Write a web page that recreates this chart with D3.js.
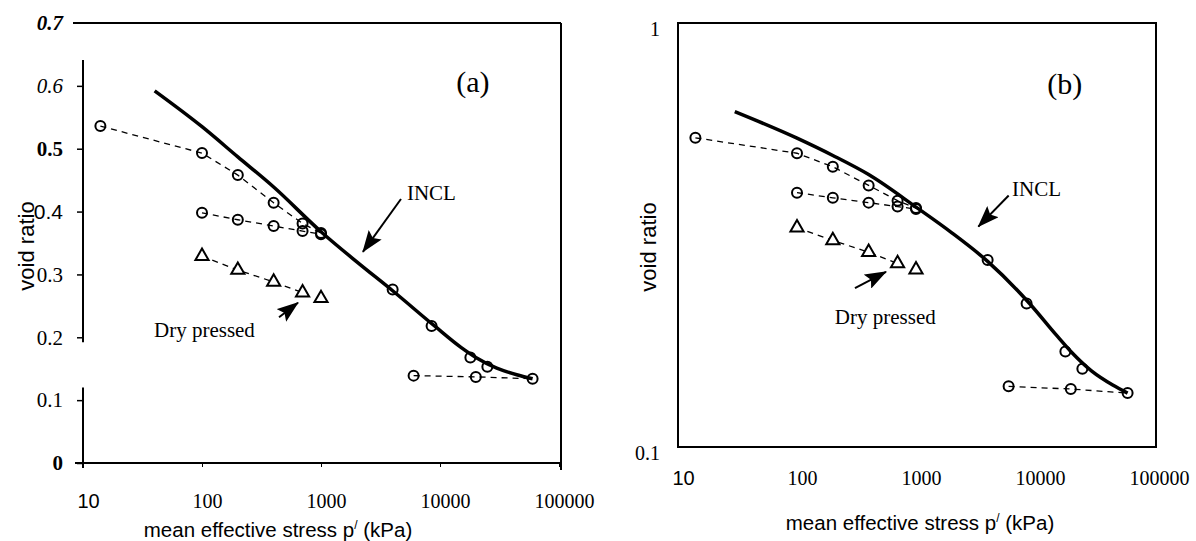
<!DOCTYPE html>
<html>
<head>
<meta charset="utf-8">
<script src="https://cdn.jsdelivr.net/npm/d3@7"></script>
<style>
  body { margin: 0; background: #fff; }
</style>
</head>
<body>
<div id="chart"></div>
<script>
// mean effective stress p' (kPa) and void ratio, one pair of arrays per test series
const pUpper = [14, 100, 200, 400, 700, 1000];
const eUpper = [0.536, 0.493, 0.458, 0.414, 0.381, 0.366];
const pMid = [100, 200, 400, 700, 1000];
const eMid = [0.398, 0.387, 0.377, 0.369, 0.364];
const pDry = [100, 200, 400, 700, 1000];
const eDry = [0.329, 0.307, 0.288, 0.271, 0.262];
const pIncl = [4000, 8500, 18000, 25000, 60000];
const eIncl = [0.276, 0.218, 0.168, 0.153, 0.134];
const pHigh = [6000, 20000, 60000];
const eHigh = [0.139, 0.137, 0.134];

// INCL curve, as drawn in (a) and in (b)
const pCurveA = [40, 100, 200, 400, 1000, 2000, 4000, 9000, 15000, 20000, 30000, 45000, 60000];
const eCurveA = [0.592, 0.535, 0.487, 0.439, 0.368, 0.32, 0.274, 0.218, 0.184, 0.168, 0.151, 0.14, 0.134];
const pCurveB = [30, 100, 200, 400, 1000, 2000, 4000, 9000, 15000, 20000, 30000, 45000, 60000];
const eCurveB = [0.618, 0.535, 0.487, 0.439, 0.368, 0.32, 0.274, 0.218, 0.184, 0.168, 0.151, 0.14, 0.134];

const xTicks = [10, 100, 1000, 10000, 100000];
const yTicksA = [0, 0.1, 0.2, 0.3, 0.4, 0.5, 0.6, 0.7];
const yTicksB = [0.1, 1];

const zip = (a, b) => a.map((v, i) => [v, b[i]]);
const serif = 'Liberation Serif, Times New Roman, serif';
const sans = 'Liberation Sans, Arial, sans-serif';

const svg = d3.select('#chart').append('svg')
  .attr('width', 1196)
  .attr('height', 541);

svg.append('defs').append('marker')
  .attr('id', 'head')
  .attr('viewBox', '0 0 22 16')
  .attr('refX', 21).attr('refY', 8)
  .attr('markerWidth', 22).attr('markerHeight', 16)
  .attr('markerUnits', 'userSpaceOnUse')
  .attr('orient', 'auto')
  .append('path')
  .attr('d', 'M0,0L22,8L0,16L4,8Z')
  .attr('fill', '#000');

// scales for both panels
const xA = d3.scaleLog().domain([10, 100000]).range([83, 559]);
const yA = d3.scaleLinear().domain([0, 0.7]).range([463, 23]);
const xB = d3.scaleLog().domain([10, 100000]).range([678, 1154]);
const yB = d3.scaleLog().domain([0.1, 1]).range([447, 23]);

function drawData(g, x, y, curve, notes) {
  const line = d3.line().x(d => x(d[0])).y(d => y(d[1]));

  g.append('path')
    .attr('d', line.curve(d3.curveMonotoneX)(curve))
    .attr('fill', 'none')
    .attr('stroke', '#000')
    .attr('stroke-width', 3.5);

  line.curve(d3.curveLinear);
  const dashed = [zip(pUpper, eUpper), zip(pMid, eMid), zip(pDry, eDry).slice(0, 4), zip(pHigh, eHigh)];
  dashed.forEach(s => {
    g.append('path')
      .attr('d', line(s))
      .attr('fill', 'none')
      .attr('stroke', '#000')
      .attr('stroke-width', 1.3)
      .attr('stroke-dasharray', '6,5');
  });

  const circles = [].concat(zip(pUpper, eUpper), zip(pMid, eMid), zip(pIncl, eIncl), zip(pHigh, eHigh).slice(0, 2));
  g.selectAll(null).data(circles).enter().append('circle')
    .attr('cx', d => x(d[0]))
    .attr('cy', d => y(d[1]))
    .attr('r', 5)
    .attr('fill', 'none')
    .attr('stroke', '#000')
    .attr('stroke-width', 2);

  g.selectAll(null).data(zip(pDry, eDry)).enter().append('path')
    .attr('d', d3.symbol(d3.symbolTriangle, 75))
    .attr('transform', d => `translate(${x(d[0])},${y(d[1])})`)
    .attr('fill', '#fff')
    .attr('stroke', '#000')
    .attr('stroke-width', 2);

  // annotations, anchored in data space
  g.append('text')
    .attr('x', x(notes.tag[0])).attr('y', y(notes.tag[1]))
    .attr('text-anchor', 'middle')
    .attr('font-family', serif).attr('font-size', 30)
    .text(notes.tagText);

  g.append('text')
    .attr('x', x(notes.incl[0])).attr('y', y(notes.incl[1]))
    .attr('font-family', serif).attr('font-size', 21)
    .text('INCL');

  g.append('text')
    .attr('x', x(notes.dry[0])).attr('y', y(notes.dry[1]))
    .attr('font-family', serif).attr('font-size', 21)
    .text('Dry pressed');

  [notes.inclArrow, notes.dryArrow].forEach(a => {
    g.append('line')
      .attr('x1', x(a[0][0])).attr('y1', y(a[0][1]))
      .attr('x2', x(a[1][0])).attr('y2', y(a[1][1]))
      .attr('stroke', '#000')
      .attr('stroke-width', 2)
      .attr('marker-end', 'url(#head)');
  });
}

function xTitle(g, cx, cy) {
  const t = g.append('text')
    .attr('x', cx).attr('y', cy)
    .attr('text-anchor', 'middle')
    .attr('font-family', sans).attr('font-size', 20.5);
  t.append('tspan').text('mean effective stress p');
  t.append('tspan').attr('dy', -8).attr('font-size', 12).text('/');
  t.append('tspan').attr('dy', 8).text(' (kPa)');
}

function yTitle(g, cx, cy) {
  g.append('text')
    .attr('transform', `translate(${cx},${cy}) rotate(-90)`)
    .attr('text-anchor', 'middle')
    .attr('font-family', sans).attr('font-size', 22)
    .text('void ratio');
}

function styleXLabels(ax) {
  ax.select('.domain').remove();
  ax.selectAll('.tick line').attr('stroke-width', 1);
  ax.selectAll('.tick text')
    .attr('dx', 5)
    .attr('font-family', d => d === 10 ? sans : serif)
    .attr('font-size', 20)
    .attr('fill', '#000');
}

// ---------- panel (a) ----------
const gA = svg.append('g');

// frame as it appears in the scan: open top-left corner and a gap in the y axis
const frameA = [
  [[73, yA(0.7)], [xA(100000) + 2, yA(0.7)]],
  [[xA(100000) + 2, yA(0.7)], [xA(100000) + 2, yA(0) + 7]],
  [[75, yA(0)], [xA(100000) + 2, yA(0)]],
  [[xA(10), 60], [xA(10), yA(0.2) + 5]],
  [[xA(10), yA(0.12)], [xA(10), yA(0) + 5]]
];
frameA.forEach(s => {
  gA.append('line')
    .attr('x1', s[0][0]).attr('y1', s[0][1])
    .attr('x2', s[1][0]).attr('y2', s[1][1])
    .attr('stroke', '#000').attr('stroke-width', 2);
});

const yAxisA = gA.append('g')
  .attr('transform', `translate(${xA(10)},0)`)
  .call(d3.axisLeft(yA).tickValues(yTicksA).tickSize(6).tickPadding(14)
    .tickFormat(d => d === 0 ? '0' : d3.format('.1f')(d)));
yAxisA.select('.domain').remove();
const yStyle = {0.7: ['bold', 'italic'], 0.6: ['normal', 'italic'], 0.5: ['bold', 'normal'], 0: ['bold', 'normal']};
yAxisA.selectAll('.tick text')
  .attr('font-family', d => d === 0.4 ? sans : serif)
  .attr('font-size', 21)
  .attr('font-weight', d => (yStyle[d] || ['normal'])[0])
  .attr('font-style', d => (yStyle[d] || ['normal', 'normal'])[1])
  .attr('fill', '#000');
yAxisA.selectAll('.tick line').attr('stroke-width', 1.5).filter(d => d === 0.7).remove();

const xAxisA = gA.append('g')
  .attr('transform', `translate(0,${yA(0)})`)
  .call(d3.axisBottom(xA).tickValues(xTicks).tickSize(4).tickPadding(27).tickFormat(d3.format('d')));
styleXLabels(xAxisA);

xTitle(gA, 278, 537);
yTitle(gA, 34, 246);

drawData(gA, xA, yA, zip(pCurveA, eCurveA), {
  tag: [18900, 0.59], tagText: '(a)',
  incl: [5270, 0.418],
  inclArrow: [[4700, 0.42], [2250, 0.336]],
  dry: [39.5, 0.2],
  dryArrow: [[444, 0.232], [641, 0.255]]
});

// ---------- panel (b) ----------
const gB = svg.append('g');

gB.append('rect')
  .attr('x', xB(10)).attr('y', yB(1))
  .attr('width', xB(100000) - xB(10) + 2)
  .attr('height', yB(0.1) - yB(1))
  .attr('fill', 'none')
  .attr('stroke', '#000')
  .attr('stroke-width', 2);

const yAxisB = gB.append('g')
  .attr('transform', `translate(${xB(10)},0)`)
  .call(d3.axisLeft(yB).tickValues(yTicksB).tickSize(0).tickPadding(18).tickFormat(d => d === 1 ? '1' : '0.1'));
yAxisB.select('.domain').remove();
yAxisB.selectAll('.tick text')
  .attr('dy', '0.6em')
  .attr('font-family', serif)
  .attr('font-size', 20)
  .attr('fill', '#000');

const xAxisB = gB.append('g')
  .attr('transform', `translate(0,${yB(0.1)})`)
  .call(d3.axisBottom(xB).tickValues(xTicks).tickSize(0).tickPadding(24).tickFormat(d3.format('d')));
styleXLabels(xAxisB);

xTitle(gB, 920, 530);
yTitle(gB, 656, 247);

drawData(gB, xB, yB, zip(pCurveB, eCurveB), {
  tag: [17800, 0.68], tagText: '(b)',
  incl: [6410, 0.391],
  inclArrow: [[6010, 0.392], [3340, 0.331]],
  dry: [208, 0.195],
  dryArrow: [[307, 0.237], [560, 0.259]]
});
</script>
</body>
</html>
